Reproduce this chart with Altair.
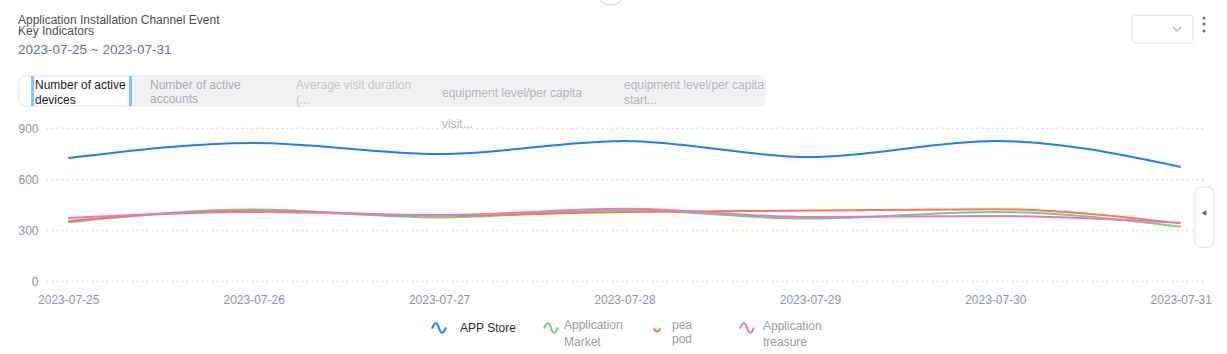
import altair as alt
import pandas as pd

# ---- data ----
dates = ["2023-07-25", "2023-07-26", "2023-07-27", "2023-07-28", "2023-07-29", "2023-07-30", "2023-07-31"]
series_names = ["APP Store", "Application Market", "pea pod", "Application treasure"]
app_store = [723, 812, 747, 824, 729, 824, 671]
app_market = [345, 420, 374, 416, 367, 406, 319]
pea_pod = [353, 412, 385, 406, 414, 422, 339]
app_treasure = [371, 406, 388, 425, 376, 382, 343]
y_ticks = [0, 300, 600, 900]
colors = ["#1f7ff0", "#6fd082", "#f9765a", "#e878bf"]

rows = []
for name, vals in zip(series_names, [app_store, app_market, pea_pod, app_treasure]):
    for d, v in zip(dates, vals):
        rows.append({"date": d, "series": name, "value": v})
df = pd.DataFrame(rows)

FONT = "Liberation Sans"
L, T = 46, 128          # plot origin in page pixels
W, H = 1157, 153
one = pd.DataFrame({"a": [0]})


def box(x1, y1, x2, y2, **kw):
    return alt.Chart(one).mark_rect(**kw).encode(
        x=alt.value(x1 - L), x2=alt.value(x2 - L),
        y=alt.value(y1 - T), y2=alt.value(y2 - T))


def txt(s, x, y, color="#333", size=12, **kw):
    return alt.Chart(one).mark_text(align="left", baseline="middle", font=FONT,
                                    fontSize=size, color=color, **kw).encode(
        x=alt.value(x - L), y=alt.value(y - T), text=alt.value(s))


def pt(x, y, **kw):
    return alt.Chart(one).mark_point(**kw).encode(x=alt.value(x - L), y=alt.value(y - T))


lines = alt.Chart(df).mark_line(interpolate="monotone", strokeWidth=2).encode(
    x=alt.X("date:O", sort=dates, scale=alt.Scale(type="point", padding=0.12),
            axis=alt.Axis(title=None, labelAngle=0, grid=False, domain=False, ticks=False,
                          labelColor="#8a93a5", labelFontSize=12, labelPadding=13, labelFont=FONT)),
    y=alt.Y("value:Q", scale=alt.Scale(domain=[0, 900], nice=False),
            axis=alt.Axis(title=None, values=y_ticks, grid=True, gridDash=[2, 3], gridColor="#e3e3e3",
                          gridWidth=2, domain=False, ticks=False, labelColor="#8a93a5",
                          labelFontSize=12, labelPadding=8, labelFont=FONT)),
    color=alt.Color("series:N", scale=alt.Scale(domain=series_names, range=colors), legend=None),
    detail="series:N",
)

squiggle = "M-1,0.1 C-0.6,-0.9 -0.3,-0.9 0,0 C0.3,0.9 0.6,0.9 1,-0.1"
cup = "M-1,-0.6 C-1,0.9 1,0.9 1,-0.6"
chevron = "M-1,-0.45 L0,0.45 L1,-0.45"

layers = [
    # header
    txt("Application Installation Channel Event", 18, 20, color="#4d4d4d"),
    txt("Key Indicators", 18, 31, color="#4d4d4d"),
    txt("2023-07-25 ~ 2023-07-31", 18, 50, color="#66708a", size=13.5),
    # top arc
    pt(611, -10, shape="circle", size=900, filled=False, stroke="#d8d8d8", strokeWidth=1.5),
    # select + kebab
    box(1132, 15, 1193, 43, fill="white", stroke="#dcdfe6", strokeWidth=1, cornerRadius=4),
    pt(1177, 29, shape=chevron, size=64, filled=False, stroke="#8a8f99", strokeWidth=1.3),
    pt(1204, 18, shape="circle", size=10, filled=True, fill="#6b7280", opacity=1, strokeWidth=0),
    pt(1204, 24, shape="circle", size=10, filled=True, fill="#6b7280", opacity=1, strokeWidth=0),
    pt(1204, 31, shape="circle", size=10, filled=True, fill="#6b7280", opacity=1, strokeWidth=0),
    # tabs
    box(18, 75, 766, 107, fill="#f1f1f3", cornerRadius=8),
    box(20, 77, 131, 105, fill="white", cornerRadius=6),
    box(31, 76, 34, 106, fill="#83c4f1"),
    box(129, 76, 132, 106, fill="#83c4f1"),
    txt("Number of active", 35, 85, color="#222"),
    txt("devices", 35, 100, color="#222"),
    txt("Number of active", 150, 85, color="#a9adb3"),
    txt("accounts", 150, 99, color="#a9adb3"),
    txt("Average visit duration", 296, 85, color="#c6c8cc"),
    txt("(...", 296, 100, color="#c6c8cc"),
    txt("equipment level/per capita", 442, 93, color="#b3b6bc"),
    txt("visit...", 442, 124, color="#b3b6bc"),
    txt("equipment level/per capita", 624, 85, color="#b3b6bc"),
    txt("start...", 624, 100, color="#b3b6bc"),
    # right handle
    box(1195, 187, 1214, 247, fill="white", stroke="#dcdfe6", strokeWidth=1, cornerRadius=6),
    pt(1204, 213, shape="triangle-left", size=30, filled=True, fill="#5f6470", opacity=1, strokeWidth=0),
    lines,
    # legend
    pt(439, 328, shape=squiggle, size=196, filled=False, stroke=colors[0], strokeWidth=2, opacity=1),
    txt("APP Store", 460, 328, color="#2b2b2b"),
    pt(551, 328, shape=squiggle, size=196, filled=False, stroke=colors[1], strokeWidth=2, opacity=1),
    txt("Application", 564, 325, color="#9a9a9a"),
    txt("Market", 564, 342, color="#9a9a9a"),
    pt(657, 330, shape=cup, size=30, filled=False, stroke=colors[2], strokeWidth=2, opacity=1),
    txt("pea", 672, 325, color="#9a9a9a"),
    txt("pod", 672, 339, color="#9a9a9a"),
    pt(747, 328, shape=squiggle, size=196, filled=False, stroke=colors[3], strokeWidth=2, opacity=1),
    txt("Application", 763, 326, color="#9a9a9a"),
    txt("treasure", 763, 342, color="#9a9a9a"),
]

chart = alt.layer(*layers).properties(
    width=W, height=H,
    padding={"left": L, "top": T, "right": 1227 - L - W, "bottom": 354 - T - H},
    autosize=alt.AutoSizeParams(type="none"),
    background="white",
).configure(font=FONT).configure_view(stroke=None)

chart.save("out.html", embed_options={"renderer": "svg", "actions": False})
